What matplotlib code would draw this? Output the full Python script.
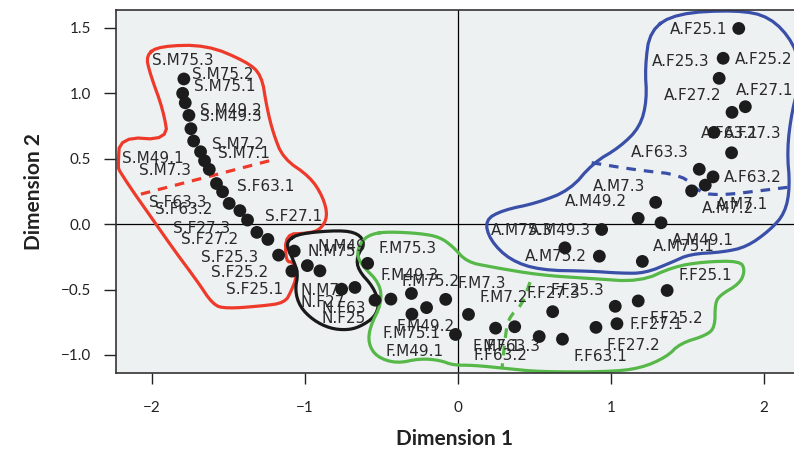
import numpy as np
from matplotlib import pyplot as plt

# Группа S (красная)
s_names = ["S.M75.3", "S.M75.2", "S.M75.1", "S.M49.2", "S.M49.3", "S.M49.1",
           "S.M7.2", "S.M7.1", "S.M7.3", "S.F63.1", "S.F63.3", "S.F63.2",
           "S.F27.1", "S.F27.3", "S.F27.2", "S.F25.3", "S.F25.2", "S.F25.1"]
s_x = [-1.791, -1.799, -1.782, -1.758, -1.745, -1.727, -1.682, -1.656, -1.625,
       -1.578, -1.538, -1.495, -1.425, -1.375, -1.314, -1.242, -1.172, -1.085]
s_y = [1.109, 0.999, 0.927, 0.831, 0.729, 0.635, 0.553, 0.484, 0.418,
       0.310, 0.247, 0.158, 0.103, 0.031, -0.063, -0.117, -0.237, -0.359]
s_lx = [-1.795, -1.536, -1.523, -1.484, -1.487, -1.993, -1.436, -1.401, -1.913,
        -1.254, -1.830, -1.790, -1.071, -1.675, -1.624, -1.490, -1.425, -1.327]
s_ly = [1.248, 1.144, 1.050, 0.866, 0.826, 0.502, 0.612, 0.541, 0.407,
        0.285, 0.166, 0.112, 0.061, -0.033, -0.115, -0.258, -0.372, -0.499]

# Группа N (черная)
n_names = ["N.M49", "N.M75", "N.M7", "N.F27", "N.F63", "N.F25"]
n_x = [-1.070, -0.984, -0.902, -0.760, -0.673, -0.542]
n_y = [-0.206, -0.317, -0.357, -0.497, -0.484, -0.581]
n_lx = [-0.760, -0.827, -0.902, -0.882, -0.745, -0.745]
n_ly = [-0.168, -0.210, -0.505, -0.600, -0.648, -0.723]

# Группа F (зеленая)
f_names = ["F.M75.3", "F.M49.3", "F.M75.2", "F.M49.2", "F.M7.3", "F.M75.1",
           "F.M49.1", "F.M7.2", "F.M7.1", "F.F63.3", "F.F63.2", "F.F63.1",
           "F.F27.3", "F.F27.2", "F.F27.1", "F.F25.3", "F.F25.2", "F.F25.1"]
f_x = [-0.590, -0.438, -0.304, -0.205, -0.080, -0.301, -0.016, 0.069, 0.246,
       0.371, 0.531, 0.683, 0.619, 0.902, 1.039, 1.028, 1.178, 1.367]
f_y = [-0.300, -0.573, -0.530, -0.638, -0.575, -0.688, -0.843, -0.690, -0.795,
       -0.784, -0.859, -0.879, -0.669, -0.789, -0.761, -0.628, -0.587, -0.507]
f_lx = [-0.327, -0.318, -0.180, -0.210, 0.157, -0.301, -0.281, 0.301, 0.252,
        0.361, 0.280, 0.931, 0.621, 1.146, 1.296, 0.781, 1.424, 1.618]
f_ly = [-0.186, -0.390, -0.441, -0.780, -0.455, -0.836, -0.976, -0.563, -0.933,
        -0.933, -1.002, -1.015, -0.530, -0.925, -0.765, -0.505, -0.721, -0.390]

# Группа A (синяя)
a_names = ["A.F25.1", "A.F25.2", "A.F25.3", "A.F27.1", "A.F27.2", "A.F63.1",
           "A.F27.3", "A.F63.3", "A.F63.2", "A.M7.1", "A.M7.2", "A.M7.3",
           "A.M49.2", "A.M49.1", "A.M49.3", "A.M75.3", "A.M75.2", "A.M75.1"]
a_x = [1.835, 1.733, 1.707, 1.878, 1.791, 1.673, 1.788, 1.577, 1.667,
       1.616, 1.527, 1.292, 1.178, 1.327, 0.939, 0.699, 0.924, 1.205]
a_y = [1.495, 1.267, 1.114, 0.897, 0.854, 0.701, 0.545, 0.419, 0.361,
       0.298, 0.254, 0.166, 0.044, 0.010, -0.041, -0.181, -0.245, -0.285]
a_lx = [1.571, 1.995, 1.453, 2.007, 1.536, 1.778, 1.925, 1.320, 1.927,
        1.856, 1.765, 1.052, 0.904, 1.601, 0.667, 0.418, 0.637, 1.475]
a_ly = [1.489, 1.259, 1.241, 1.019, 0.979, 0.693, 0.693, 0.545, 0.354,
        0.153, 0.120, 0.291, 0.176, -0.128, -0.051, -0.051, -0.245, -0.168]

# Контуры групп (нарисованы от руки)
red_ox = [-2.039, -1.948, -1.642, -1.381, -1.283, -1.250, -1.207, -1.142, -0.967,
          -0.882, -0.850, -0.902, -0.989, -1.126, -1.126, -1.072, -1.054, -1.087,
          -1.131, -1.294, -1.512, -1.599, -1.708, -1.839, -1.992, -2.100, -2.209,
          -2.222, -2.209, -1.893, -1.926, -2.013]
red_oy = [1.292, 1.361, 1.369, 1.241, 1.139, 0.897, 0.693, 0.502, 0.362,
          0.209, 0.056, -0.046, -0.071, -0.076, -0.288, -0.288, -0.403, -0.505,
          -0.602, -0.627, -0.645, -0.619, -0.428, -0.224, 0.031, 0.209, 0.400,
          0.438, 0.667, 0.642, 0.872, 1.152]
black_ox = [-1.109, -1.033, -0.771, -0.652, -0.608, -0.662, -0.652, -0.554, -0.514,
            -0.542, -0.641, -0.727, -0.837, -0.946, -1.033, -1.065, -1.044, -1.076,
            -1.116]
black_oy = [-0.122, -0.071, -0.046, -0.071, -0.148, -0.250, -0.352, -0.479, -0.606,
            -0.709, -0.785, -0.810, -0.797, -0.734, -0.632, -0.505, -0.377, -0.275,
            -0.174]
green_ox = [-0.554, -0.444, -0.248, -0.118, -0.031, 0.057, 0.209, 0.536, 0.863,
            1.190, 1.407, 1.603, 1.843, 1.876, 1.843, 1.712, 1.680, 1.680, 1.625,
            1.451, 1.364, 1.190, 0.972, 0.536, 0.318, 0.100, -0.031, -0.118, -0.248,
            -0.401, -0.531, -0.586, -0.575, -0.499, -0.510, -0.629, -0.662, -0.627]
green_oy = [-0.071, -0.059, -0.071, -0.099, -0.174, -0.288, -0.326, -0.390, -0.415,
            -0.441, -0.326, -0.288, -0.281, -0.352, -0.453, -0.543, -0.606, -0.785,
            -0.849, -0.912, -1.015, -1.103, -1.129, -1.129, -1.103, -1.078, -1.078,
            -1.040, -1.027, -1.065, -1.015, -0.912, -0.785, -0.606, -0.453, -0.313,
            -0.224, -0.122]
blue_ox = [1.255, 1.429, 1.822, 2.039, 2.196, 2.248, 2.183, 2.150, 2.170, 2.137,
           2.039, 1.887, 1.732, 1.516, 1.399, 1.222, 1.059, 0.863, 0.536, 0.340,
           0.209, 0.176, 0.294, 0.516, 0.732, 0.882, 1.059, 1.190, 1.235, 1.222]
blue_oy = [1.483, 1.611, 1.636, 1.585, 1.384, 1.139, 0.872, 0.566, 0.283, 0.084,
           -0.046, -0.174, -0.214, -0.229, -0.291, -0.375, -0.375, -0.359, -0.352,
           -0.275, -0.122, 0.031, 0.107, 0.161, 0.260, 0.466, 0.589, 0.742, 0.948,
           1.200]

# Пунктирные разделители внутри групп
red_dx = [-2.072, -1.216]
red_dy = [0.229, 0.489]
green_dx = [0.471, 0.418, 0.327, 0.307, 0.288]
green_dy = [-0.443, -0.619, -0.719, -0.887, -1.101]
blue_dx = [0.874, 1.168, 1.473, 1.582, 1.734, 1.974, 2.25]
blue_dy = [0.469, 0.413, 0.375, 0.235, 0.222, 0.255, 0.295]


# Сглаживание ломаной методом Чайкина
def chaikin(xs, ys, n=3, closed=True):
    p = np.column_stack([xs, ys])
    for _ in range(n):
        q = np.roll(p, -1, axis=0) if closed else p[1:]
        a = p if closed else p[:-1]
        r1 = 0.75 * a + 0.25 * q
        r2 = 0.25 * a + 0.75 * q
        new = np.empty((2 * len(a), 2))
        new[0::2] = r1
        new[1::2] = r2
        if not closed:
            new = np.vstack([p[0], new, p[-1]])
        p = new
    if closed:
        p = np.vstack([p, p[0]])
    return p[:, 0], p[:, 1]


RED = "#ee3a2a"
BLACK = "#1a1a1a"
GREEN = "#55b848"
BLUE = "#3a4fa8"

fig = plt.figure(figsize=(7.94, 4.54), dpi=100)
ax = fig.add_axes([0.146, 0.178, 0.854, 0.8])
ax.set_facecolor("#eef1f2")

ax.axhline(0, color="black", lw=0.9, zorder=1)
ax.axvline(0, color="black", lw=0.9, zorder=1)

# Контуры
for ox, oy, c in [(red_ox, red_oy, RED), (black_ox, black_oy, BLACK),
                  (green_ox, green_oy, GREEN), (blue_ox, blue_oy, BLUE)]:
    sx, sy = chaikin(ox, oy, 2)
    ax.plot(sx, sy, color=c, lw=2.3, solid_joinstyle="round", zorder=2)

for dx, dy, c in [(red_dx, red_dy, RED), (green_dx, green_dy, GREEN),
                  (blue_dx, blue_dy, BLUE)]:
    sx, sy = chaikin(dx, dy, 2, closed=False)
    ax.plot(sx, sy, color=c, lw=2.3, ls=(0, (3, 2.5)), zorder=2)

# Подписи и точки
for names, lx, ly in [(s_names, s_lx, s_ly), (n_names, n_lx, n_ly),
                      (f_names, f_lx, f_ly), (a_names, a_lx, a_ly)]:
    for nm, tx, ty in zip(names, lx, ly):
        ax.text(tx, ty, nm, fontsize=11, color="#2a2a2a", ha="center",
                va="center", family="DejaVu Sans", zorder=3)

all_x = s_x + n_x + f_x + a_x
all_y = s_y + n_y + f_y + a_y
ax.scatter(all_x, all_y, s=85, color="#1c1c1c", edgecolors="none", zorder=4)

ax.set_xlim(-2.235, 2.196)
ax.set_ylim(-1.139, 1.636)
ax.set_xticks([-2, -1, 0, 1, 2])
ax.set_yticks([-1.0, -0.5, 0.0, 0.5, 1.0, 1.5])
ax.set_yticklabels(["\u22121.0", "\u22120.5", "0.0", "0.5", "1.0", "1.5"])
ax.set_xticklabels(["\u22122", "\u22121", "0", "1", "2"])
ax.tick_params(axis="x", direction="out", length=8, width=1, pad=12,
               labelsize=11, colors="#222222")
ax.tick_params(axis="y", direction="out", length=9, width=1, pad=9,
               labelsize=11, colors="#222222")
for lab in ax.get_xticklabels() + ax.get_yticklabels():
    lab.set_family("Lato")

ax.spines["right"].set_visible(False)
for sp in ["left", "bottom", "top"]:
    ax.spines[sp].set_linewidth(1.2)
    ax.spines[sp].set_color("#333333")

ax.set_xlabel("Dimension 1", fontsize=15, fontweight="bold", family="Lato",
              labelpad=10, color="#222222")
ax.set_ylabel("Dimension 2", fontsize=15, fontweight="bold", family="Lato",
              labelpad=12, color="#222222")

fig.savefig("out.png", dpi=100)
